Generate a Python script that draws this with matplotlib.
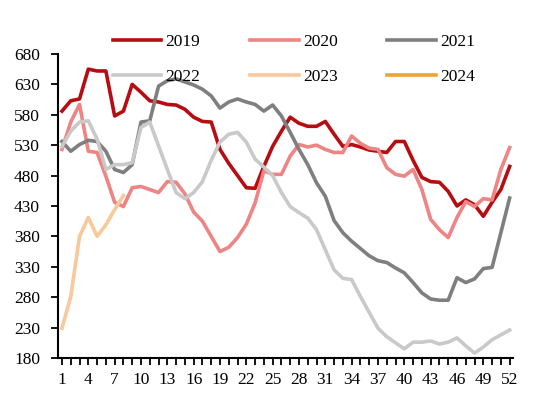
import numpy as np
import matplotlib
matplotlib.use("Agg")
import matplotlib.pyplot as plt

plt.rcParams['font.family'] = ['Liberation Serif', 'DejaVu Serif']

weeks = np.arange(1, 53)
y2019 = [586, 603, 606, 655, 652, 652, 578, 586, 630, 617,
         603, 601, 597, 596, 589, 576, 569, 568, 523, 500,
         480, 460, 459, 495, 528, 553, 576, 566, 561, 561,
         569, 548, 528, 531, 527, 522, 520, 518, 536, 536,
         505, 477, 470, 469, 454, 430, 440, 432, 413, 436,
         457, 495]
y2020 = [523, 568, 597, 520, 518, 479, 436, 429, 460, 462,
         457, 452, 470, 469, 450, 420, 405, 380, 355, 362,
         378, 400, 435, 488, 482, 482, 512, 531, 527, 530,
         523, 518, 518, 545, 533, 525, 523, 493, 482, 479,
         490, 457, 408, 391, 378, 411, 437, 429, 442, 440,
         490, 526]
y2021 = [536, 520, 531, 538, 536, 520, 490, 485, 498, 568,
         570, 627, 636, 639, 634, 629, 622, 611, 591, 601,
         606, 601, 597, 586, 596, 578, 551, 523, 498, 468,
         446, 406, 386, 372, 360, 348, 340, 337, 328, 320,
         304, 287, 277, 275, 275, 312, 304, 310, 327, 329,
         386, 443]
y2022 = [528, 553, 568, 570, 540, 490, 498, 498, 501, 559,
         568, 529, 490, 452, 442, 452, 470, 505, 535, 548,
         551, 535, 507, 494, 480, 452, 429, 419, 410, 391,
         358, 325, 311, 309, 281, 255, 229, 215, 205, 195,
         206, 206, 208, 203, 206, 213, 200, 188, 198, 210,
         218, 226]
y2023 = [229, 281, 380, 411, 380, 399, 424, 447]
y2024 = []

fig = plt.figure(figsize=(5.5, 3.99), dpi=100)
ax = fig.add_axes([0.1055, 0.1028, 0.8275, 0.762])

lw = 2.6
l19, = ax.plot(weeks, y2019, color="#B50D12", lw=lw, label="2019")
l20, = ax.plot(weeks, y2020, color="#EE8484", lw=lw, label="2020")
l21, = ax.plot(weeks, y2021, color="#7F7F7F", lw=lw, label="2021")
l22, = ax.plot(weeks, y2022, color="#C9C9C9", lw=lw, label="2022")
l23, = ax.plot(weeks[:len(y2023)], y2023, color="#F9C89B", lw=lw, label="2023")
l24, = ax.plot(weeks[:len(y2024)], y2024, color="#F0A430", lw=lw, label="2024")

ax.set_xlim(0.55, 52.4)
ax.set_ylim(180, 680)
ax.set_yticks(np.arange(180, 681, 50))
ax.set_xticks(np.arange(1, 53, 3))
ax.set_xticks(weeks, minor=True)

for s in ["top", "right"]:
    ax.spines[s].set_visible(False)
for s in ["left", "bottom"]:
    ax.spines[s].set_linewidth(1.5)
ax.tick_params(axis="y", direction="out", length=5, width=1.3, labelsize=12.5, pad=8)
ax.tick_params(axis="x", which="both", direction="out", length=5, width=1.3, labelsize=12.5, pad=5)

# legend filled column by column, so reorder to get the row layout
handles = [l19, l22, l20, l23, l21, l24]
fig.legend(handles, [h.get_label() for h in handles], ncol=3, frameon=False,
           loc="upper left", bbox_to_anchor=(0.205, 0.915), fontsize=12.5,
           handlelength=2.8, handletextpad=0.25, columnspacing=2.85,
           labelspacing=1.1, borderpad=0, borderaxespad=0)

fig.savefig("out.png", dpi=100)
